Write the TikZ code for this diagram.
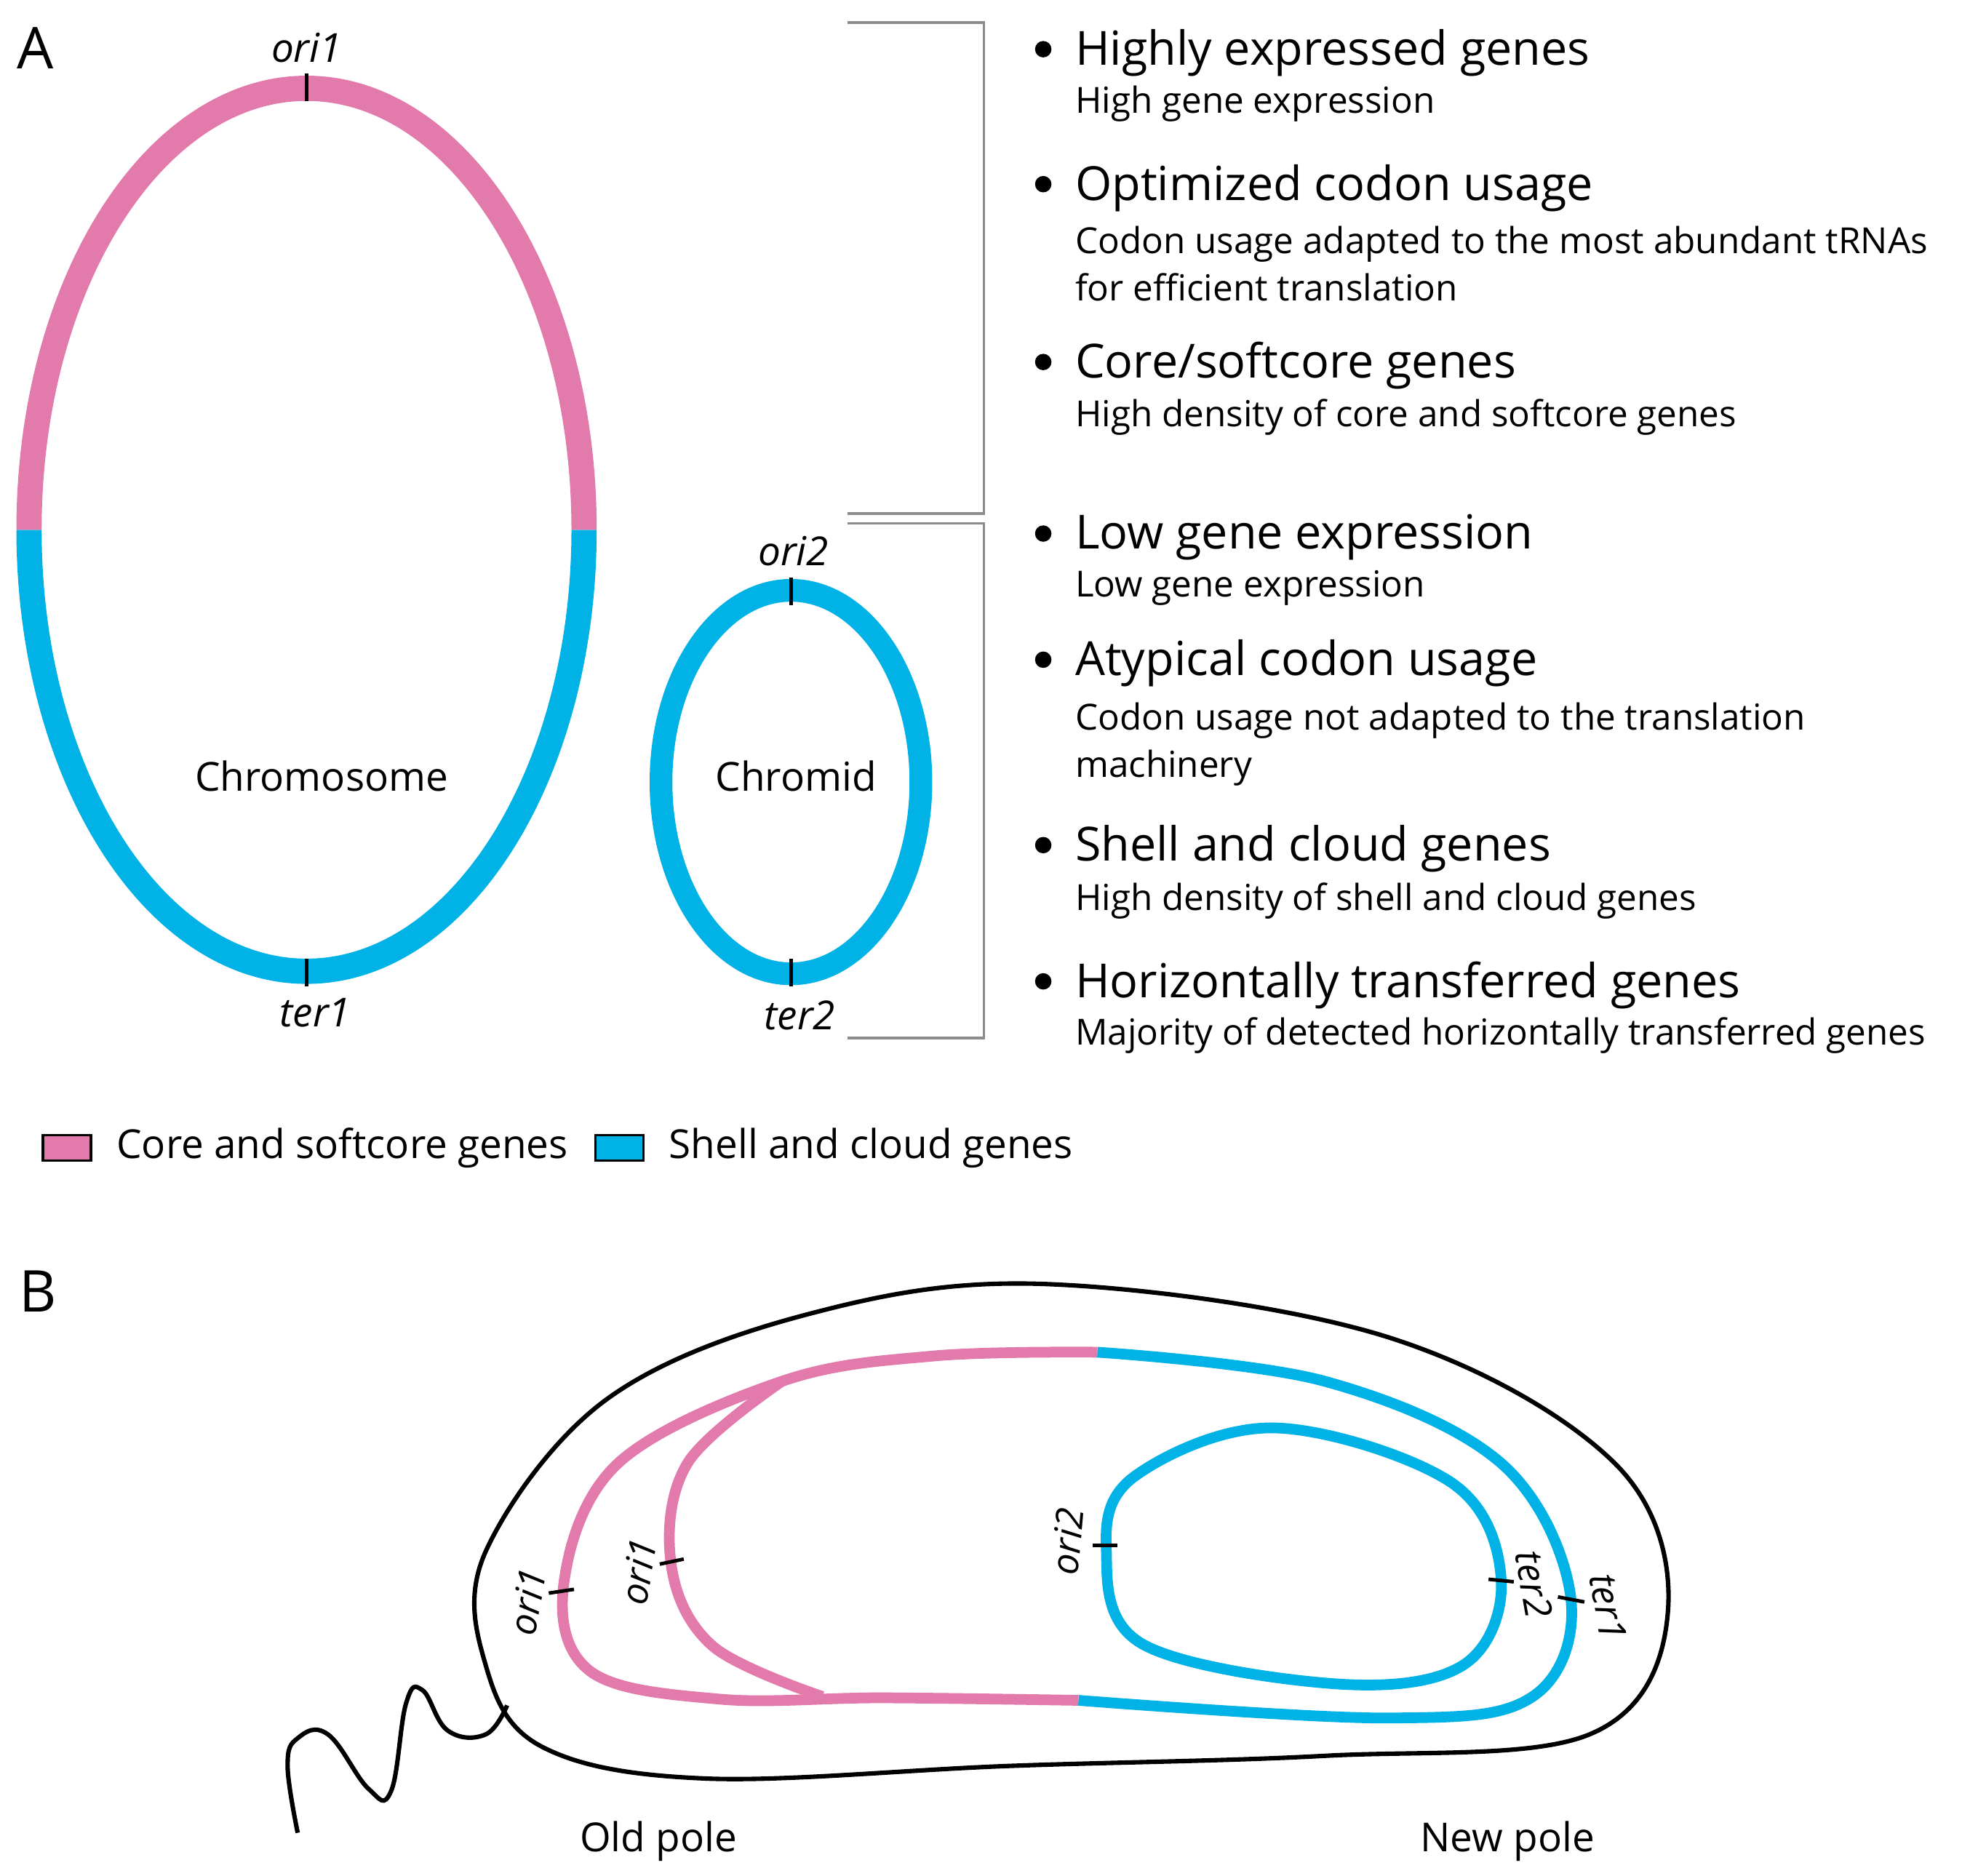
\documentclass[tikz,border=0pt]{standalone}
\usepackage{fontspec}
\setmainfont{Open Sans}
\definecolor{pk}{HTML}{E27AAB}
\definecolor{bl}{HTML}{00B2E6}
\definecolor{br}{HTML}{8C8C8C}
\begin{document}
\begin{tikzpicture}[x=0.01cm,y=-0.01cm,
  big/.style={anchor=west,font=\fontsize{10.6}{13}\selectfont},
  small/.style={anchor=west,font=\fontsize{8.1}{10.7}\selectfont,align=left},
  lab/.style={font=\fontsize{9}{11}\selectfont\itshape},
  bul/.style={circle,fill=black,inner sep=0pt,minimum size=0.13cm},
  brk/.style={br,line width=0.6pt}]
\useasboundingbox (0,0) rectangle (1568,1487);
% Chromosome
\draw[bl,line width=0.2cm] (23,420) arc[start angle=180,end angle=0,x radius=220,y radius=350];
\draw[pk,line width=0.2cm] (463,420) arc[start angle=0,end angle=-180,x radius=220,y radius=350];
\draw[line width=0.8pt] (243,58) -- (243,80);
\draw[line width=0.8pt] (243,760) -- (243,782);
\node[lab] (o1) at (243,38) {ori1};
\node[lab] (t1) at (250,803) {ter1};
\node[font=\fontsize{9}{11}\selectfont] (chr) at (255,615) {Chromosome};
% Chromid
\draw[bl,line width=0.18cm] (627,620) ellipse[x radius=103,y radius=152];
\draw[line width=0.8pt] (627,458) -- (627,480);
\draw[line width=0.8pt] (627,760) -- (627,782);
\node[lab] (o2) at (629,437) {ori2};
\node[lab] (t2) at (634,805) {ter2};
\node[font=\fontsize{9}{11}\selectfont] (cmd) at (631,615) {Chromid};
% brackets
\draw[brk] (672,18) -- (780,18) -- (780,407) -- (672,407);
\draw[brk] (672,415) -- (780,415) -- (780,823) -- (672,823);
% texts
\foreach \y/\t in {42/{Highly expressed genes},149/{Optimized codon usage},290/{Core/softcore genes},426/{Low gene expression},526/{Atypical codon usage},673/{Shell and cloud genes},781/{Horizontally transferred genes}}{
  \node[bul] at (827,\y-3) {};
  \node[big] at (840,\y) {\t};}
\node[small] (s1) at (840,82) {High gene expression};
\node[small] (s2) at (840,209) {Codon usage adapted to the most abundant tRNAs\\for efficient translation};
\node[small] (s3) at (840,331) {High density of core and softcore genes};
\node[small] (s4) at (840,466) {Low gene expression};
\node[small] (s5) at (840,590) {Codon usage not adapted to the translation\\machinery};
\node[small] (s6) at (840,714) {High density of shell and cloud genes};
\node[small] (s7) at (840,821) {Majority of detected horizontally transferred genes};
% legend
\draw[fill=pk,line width=0.6pt] (34,900) rectangle (72,920);
\node[anchor=west,font=\fontsize{9}{11}\selectfont] (l1) at (80,910) {Core and softcore genes};
\draw[fill=bl,line width=0.6pt] (472,900) rectangle (510,920);
\node[anchor=west,font=\fontsize{9}{11}\selectfont] (l2) at (518,910) {Shell and cloud genes};
\node[font=\fontsize{13}{15}\selectfont] (A) at (28,38) {A};
\node[font=\fontsize{13}{15}\selectfont] (B) at (30,1024) {B};
% Part B cell
\draw[line width=1pt] plot[smooth cycle,tension=0.6] coordinates{(830,1018) (1100,1060) (1280,1160) (1322,1280) (1260,1375) (1050,1392) (800,1400) (560,1410) (430,1385) (385,1320) (385,1230) (480,1110) (640,1042)};
\draw[line width=1pt] plot[smooth,tension=0.7] coordinates{(402,1352) (385,1375) (355,1372) (335,1340) (322,1350) (310,1420) (292,1418) (260,1375) (236,1378) (228,1400) (236,1453)};
\def\lw{0.085cm}
\draw[pk,line width=\lw] plot[smooth,tension=0.6] coordinates{(870,1072) (740,1075) (620,1095) (490,1160) (447,1255) (468,1325) (570,1347) (700,1346) (855,1348)};
\draw[bl,line width=\lw] plot[smooth,tension=0.6] coordinates{(870,1072) (1050,1095) (1190,1160) (1245,1265) (1215,1345) (1100,1362) (855,1348)};
\draw[pk,line width=\lw] plot[smooth,tension=0.6] coordinates{(620,1095) (545,1160) (532,1240) (565,1305) (652,1345)};
\draw[bl,line width=\lw] plot[smooth cycle,tension=0.6] coordinates{(1010,1132) (900,1170) (877,1228) (905,1303) (1060,1335) (1160,1320) (1190,1252) (1150,1175)};
\draw[line width=0.8pt] (435,1263) -- (455,1260);
\draw[line width=0.8pt] (523,1240) -- (542,1236);
\draw[line width=0.8pt] (866,1225) -- (886,1225);
\draw[line width=0.8pt] (1180,1252) -- (1200,1254);
\draw[line width=0.8pt] (1235,1266) -- (1256,1270);
\node[lab,rotate=80,font=\fontsize{8.5}{10}\selectfont\itshape] (bo1) at (418,1270) {ori1};
\node[lab,rotate=80,font=\fontsize{8.5}{10}\selectfont\itshape] (bi1) at (506,1246) {ori1};
\node[lab,rotate=85,font=\fontsize{8.5}{10}\selectfont\itshape] (bo2) at (846,1222) {ori2};
\node[lab,rotate=-80,font=\fontsize{8.5}{10}\selectfont\itshape] (bt2) at (1216,1256) {ter2};
\node[lab,rotate=-80,font=\fontsize{8.5}{10}\selectfont\itshape] (bt1) at (1275,1274) {ter1};
\node[font=\fontsize{9}{11}\selectfont] (op) at (522,1460) {Old pole};
\node[font=\fontsize{9}{11}\selectfont] (np) at (1195,1460) {New pole};
\end{tikzpicture}
\end{document}
